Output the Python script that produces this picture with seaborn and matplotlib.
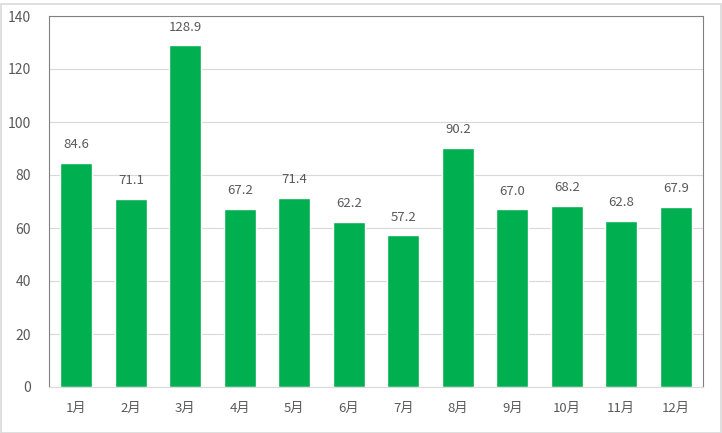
import matplotlib
matplotlib.use("Agg")
import matplotlib.pyplot as plt
import seaborn as sns
import pandas as pd
import numpy as np

months = ["1月", "2月", "3月", "4月", "5月", "6月", "7月", "8月", "9月", "10月", "11月", "12月"]
values = [84.6, 71.1, 128.9, 67.2, 71.4, 62.2, 57.2, 90.2, 67.0, 68.2, 62.8, 67.9]
yticks = [0, 20, 40, 60, 80, 100, 120, 140]

sns.set_theme(style="white")
plt.rcParams['font.family'] = ['Noto Sans CJK JP', 'DejaVu Sans']

df = pd.DataFrame({"month": months, "value": values})

fig = plt.figure(figsize=(7.22, 4.33), dpi=100)
ax = fig.add_axes([49/722, 1-387/433, (703-49)/722, (387-16)/433])

sns.barplot(data=df, x="month", y="value", color="#00b050", saturation=1, width=0.59, ax=ax)

txt = "#595959"
for i, v in enumerate(values):
    ax.annotate(f"{v:.1f}", (i, v), xytext=(0, 8.5), textcoords="offset points",
                ha="center", va="bottom", fontsize=9.5, color=txt)

ax.set_ylim(0, 140)
ax.set_yticks(yticks)
ax.set_yticklabels([str(t) for t in yticks])
ax.set_xlim(-0.5, len(months) - 0.5)
ax.yaxis.grid(True, color="#d9d9d9", linewidth=0.8)
ax.set_axisbelow(True)
ax.set_xlabel("")
ax.set_ylabel("")

ax.tick_params(axis="y", length=0, pad=13, labelsize=10, labelcolor=txt)
ax.tick_params(axis="x", which="major", length=0, pad=11, labelsize=9.5, labelcolor=txt)
ax.set_xticks(np.arange(-0.5, len(months)), minor=True)
ax.tick_params(axis="x", which="minor", length=5, color="#d9d9d9", width=0.8)

for s in ["left", "top", "right"]:
    ax.spines[s].set_visible(True)
    ax.spines[s].set_color("#808080")
    ax.spines[s].set_linewidth(0.8)
ax.spines["bottom"].set_visible(True)
ax.spines["bottom"].set_color("#d9d9d9")
ax.spines["bottom"].set_linewidth(0.8)

fig.patches.append(plt.Rectangle((0.5/722, 0.5/433), 1-2/722, 1-4/433, transform=fig.transFigure,
                                 fill=False, edgecolor="#d9d9d9", linewidth=1.2))

fig.savefig("out.png", dpi=100)
